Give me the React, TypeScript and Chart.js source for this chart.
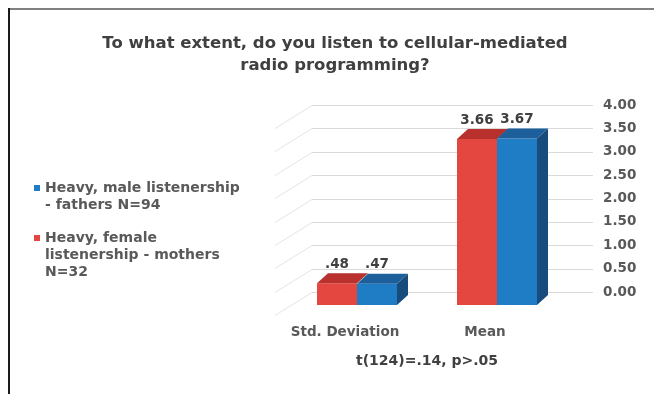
import React, { useEffect, useRef } from 'react';
import { Chart, registerables } from 'chart.js';

Chart.register(...registerables);

const TITLE_LINES = ['To what extent, do you listen to cellular-mediated', 'radio programming?'];
const CATEGORIES = ['Std. Deviation', 'Mean'];
const FEMALE_LABEL = ['Heavy, female', 'listenership - mothers', 'N=32'];
const MALE_LABEL = ['Heavy, male listenership', '- fathers N=94'];
const FEMALE_VALUES = [0.48, 3.66];
const MALE_VALUES = [0.47, 3.67];
const Y_MIN = 0;
const Y_MAX = 4;
const Y_STEP = 0.5;
const X_TITLE = 't(124)=.14, p>.05';

const FONT = '"DejaVu Sans", "Liberation Sans", Arial, sans-serif';
const RED = { front: '#e4473f', top: '#b8312c', side: '#9e2a26' };
const BLUE = { front: '#1f7dc6', top: '#1c5f9b', side: '#174c7d' };

const DEPTH_X = 11;
const DEPTH_Y = -10;

const fmtValue = (v: number) => (v < 1 ? v.toFixed(2).replace(/^0/, '') : v.toFixed(2));

const framePlugin = {
  id: 'frame',
  beforeDraw(chart: any) {
    const { ctx, width, height } = chart;
    ctx.save();
    ctx.fillStyle = '#ffffff';
    ctx.fillRect(0, 0, width, height);
    ctx.strokeStyle = '#808080';
    ctx.lineWidth = 2;
    ctx.beginPath();
    ctx.moveTo(8, 9);
    ctx.lineTo(width, 9);
    ctx.stroke();
    ctx.strokeStyle = '#1a1a1a';
    ctx.beginPath();
    ctx.moveTo(9, 8);
    ctx.lineTo(9, height);
    ctx.stroke();
    ctx.restore();
  },
};

const wallPlugin = {
  id: 'wall',
  beforeDatasetsDraw(chart: any) {
    const { ctx, chartArea } = chart;
    const y = chart.scales.y;
    const x0 = chartArea.left + 25;
    const x1 = chartArea.right + 26;
    ctx.save();
    ctx.lineWidth = 1;
    y.ticks.forEach((t: any) => {
      const py = Math.round(y.getPixelForValue(t.value)) + 0.5;
      ctx.strokeStyle = '#dadada';
      ctx.beginPath();
      ctx.moveTo(x0, py);
      ctx.lineTo(x1, py);
      ctx.stroke();
      ctx.strokeStyle = '#e4e4e4';
      ctx.beginPath();
      ctx.moveTo(x0, py);
      ctx.lineTo(x0 - 37, py + 23);
      ctx.stroke();
    });
    ctx.restore();
  },
};

const bars3dPlugin = {
  id: 'bars3d',
  afterDatasetsDraw(chart: any) {
    const { ctx } = chart;
    const n = chart.data.datasets.length;
    ctx.save();
    for (let d = 0; d < n; d++) {
      const meta = chart.getDatasetMeta(d);
      const colors = chart.data.datasets[d].faceColors;
      meta.data.forEach((el: any) => {
        const { x, y, base, width } = el.getProps(['x', 'y', 'base', 'width'], true);
        const l = x - width / 2;
        const r = x + width / 2;
        if (d === n - 1) {
          ctx.fillStyle = colors.side;
          ctx.beginPath();
          ctx.moveTo(r, y);
          ctx.lineTo(r + DEPTH_X, y + DEPTH_Y);
          ctx.lineTo(r + DEPTH_X, base + DEPTH_Y);
          ctx.lineTo(r, base);
          ctx.closePath();
          ctx.fill();
        }
        ctx.fillStyle = colors.top;
        ctx.beginPath();
        ctx.moveTo(l, y);
        ctx.lineTo(r, y);
        ctx.lineTo(r + DEPTH_X, y + DEPTH_Y);
        ctx.lineTo(l + DEPTH_X, y + DEPTH_Y);
        ctx.closePath();
        ctx.fill();
      });
    }
    ctx.font = `bold 13.5px ${FONT}`;
    ctx.fillStyle = '#404040';
    ctx.textAlign = 'center';
    ctx.textBaseline = 'bottom';
    for (let d = 0; d < n; d++) {
      const meta = chart.getDatasetMeta(d);
      const values = chart.data.datasets[d].data;
      meta.data.forEach((el: any, i: number) => {
        const { x, y } = el.getProps(['x', 'y'], true);
        ctx.fillText(fmtValue(values[i]), x, y + DEPTH_Y - 2);
      });
    }
    ctx.restore();
  },
};

const titleLegendPlugin = {
  id: 'titleLegend',
  afterDraw(chart: any) {
    const { ctx } = chart;
    ctx.save();
    ctx.font = `bold 16.5px ${FONT}`;
    ctx.fillStyle = '#404040';
    ctx.textAlign = 'center';
    ctx.textBaseline = 'middle';
    TITLE_LINES.forEach((line, i) => ctx.fillText(line, 335, 44 + i * 22));

    const items = [
      { color: BLUE.front, lines: MALE_LABEL, top: 188 },
      { color: RED.front, lines: FEMALE_LABEL, top: 238 },
    ];
    ctx.font = `bold 14px ${FONT}`;
    ctx.textAlign = 'left';
    items.forEach((it) => {
      ctx.fillStyle = it.color;
      ctx.fillRect(34, it.top - 3, 6, 6);
      ctx.fillStyle = '#595959';
      it.lines.forEach((line, i) => ctx.fillText(line, 45, it.top + i * 17));
    });
    ctx.restore();
  },
};

export default function App() {
  const ref = useRef<HTMLCanvasElement>(null);
  useEffect(() => {
    const canvas = ref.current!;
    const chart = new Chart(canvas, {
      type: 'bar',
      data: {
        labels: CATEGORIES,
        datasets: [
          {
            label: FEMALE_LABEL.join(' '),
            data: FEMALE_VALUES,
            backgroundColor: RED.front,
            faceColors: RED,
            yAxisID: 'yb',
            base: 0,
            clip: false,
          } as any,
          {
            label: MALE_LABEL.join(' '),
            data: MALE_VALUES,
            backgroundColor: BLUE.front,
            faceColors: BLUE,
            yAxisID: 'yb',
            base: 0,
            clip: false,
          } as any,
        ],
      },
      options: {
        animation: false,
        responsive: false,
        devicePixelRatio: 1,
        categoryPercentage: 0.5714,
        barPercentage: 1,
        layout: { padding: { left: 287, right: 18, top: 105, bottom: 24 } },
        plugins: {
          legend: { display: false },
          title: { display: false },
          tooltip: { enabled: false },
        },
        scales: {
          x: {
            grid: { display: false, drawTicks: false },
            border: { display: false },
            afterFit: (s: any) => { s.height = 78; },
            ticks: {
              maxRotation: 0,
              autoSkip: false,
              padding: 32,
              labelOffset: -12,
              color: '#595959',
              font: { family: FONT, size: 13.5, weight: 'bold' },
            },
            title: {
              display: true,
              text: X_TITLE,
              color: '#404040',
              padding: { top: 13, bottom: 0 },
              font: { family: FONT, size: 14, weight: 'bold' },
            },
          },
          y: {
            position: 'right',
            min: Y_MIN,
            max: Y_MAX,
            grid: { display: false, drawTicks: false },
            border: { display: false },
            afterFit: (s: any) => { s.width = 69; },
            ticks: {
              stepSize: Y_STEP,
              padding: 36,
              color: '#595959',
              font: { family: FONT, size: 13.5, weight: 'bold' },
              callback: (v: any) => Number(v).toFixed(2),
            },
          },
          yb: {
            display: false,
            position: 'right',
            min: 0.2866,
            max: 4.409,
          },
        },
      } as any,
      plugins: [framePlugin, wallPlugin, bars3dPlugin, titleLegendPlugin],
    });
    return () => chart.destroy();
  }, []);
  return (
    <div style={{ position: 'absolute', left: 0, top: 0, width: 654, height: 394, background: '#fff' }}>
      <canvas ref={ref} width={654} height={394} style={{ display: 'block', width: 654, height: 394 }} />
    </div>
  );
}
